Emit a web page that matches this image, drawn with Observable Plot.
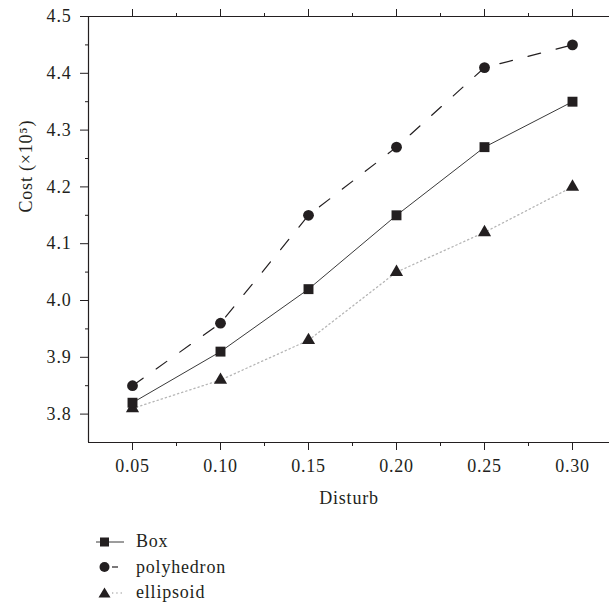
<!DOCTYPE html>
<html><head><meta charset="utf-8">
<script src="https://cdn.jsdelivr.net/npm/d3@7"></script>
<script src="https://cdn.jsdelivr.net/npm/@observablehq/plot@0.6"></script>
<style>
html,body{margin:0;padding:0;background:#fff;overflow:hidden;}
body{font-family:"Liberation Serif","DejaVu Serif",serif;color:#231f20;}
#legend{padding-top:14px;font-size:18px;letter-spacing:0.8px;}
.row{height:25.5px;display:flex;align-items:center;}
.row svg{margin-left:96px;margin-right:10px;}
</style></head><body>
<div id="chart"></div>
<div id="legend"></div>
<script>
const disturb = [0.05, 0.10, 0.15, 0.20, 0.25, 0.30];
const boxCost = [3.82, 3.91, 4.02, 4.15, 4.27, 4.35];
const polyhedronCost = [3.85, 3.96, 4.15, 4.27, 4.41, 4.45];
const ellipsoidCost = [3.81, 3.86, 3.93, 4.05, 4.12, 4.20];
const seriesNames = ["Box", "polyhedron", "ellipsoid"];
const xMajorTicks = [0.05, 0.10, 0.15, 0.20, 0.25, 0.30];
const xMinorTicks = [0.075, 0.125, 0.175, 0.225, 0.275];
const yMajorTicks = [3.8, 3.9, 4.0, 4.1, 4.2, 4.3, 4.4, 4.5];
const yMinorTicks = [3.85, 3.95, 4.05, 4.15, 4.25, 4.35, 4.45];
const xTitle = "Disturb";
const yTitle = "Cost (×10⁵)";

const ink = "#231f20";
const table = [];
disturb.forEach((d, i) => {
  table.push({x: d, y: boxCost[i], s: "Box"});
  table.push({x: d, y: polyhedronCost[i], s: "polyhedron"});
  table.push({x: d, y: ellipsoidCost[i], s: "ellipsoid"});
});
const of = (name) => table.filter(r => r.s === name);

const chart = Plot.plot({
  width: 609, height: 515,
  marginLeft: 88, marginRight: 0, marginTop: 16, marginBottom: 73,
  style: {fontFamily: '"Liberation Serif", serif', fontSize: "18px", color: ink, background: "#fff", overflow: "hidden", letterSpacing: "0.8px"},
  x: {domain: [0.025, 0.325], range: [88, 616]},
  y: {domain: [3.75, 4.5]},
  marks: [
    Plot.axisX(xMajorTicks, {anchor: "bottom", tickSize: 8, tickPadding: 9, tickFormat: d3.format(".2f"),
      label: xTitle, labelAnchor: "center", labelArrow: "none", labelOffset: 61}),
    Plot.axisX(xMinorTicks, {anchor: "bottom", tickSize: 4, tickFormat: () => "", label: null}),
    Plot.axisX(xMajorTicks, {anchor: "top", tickSize: 8, tickFormat: () => "", label: null}),
    Plot.axisX(xMinorTicks, {anchor: "top", tickSize: 4, tickFormat: () => "", label: null}),
    Plot.axisY(yMajorTicks, {anchor: "left", tickSize: 8, tickPadding: 9, tickFormat: d3.format(".1f"), label: null}),
    Plot.axisY(yMinorTicks, {anchor: "left", tickSize: 3, tickFormat: () => "", label: null}),
    Plot.text([yTitle], {frameAnchor: "left", rotate: -90, dx: -57, dy: -17, fill: ink, fontSize: 18, lineAnchor: "bottom"}),
    Plot.ruleY([3.75], {stroke: ink, strokeWidth: 1.2}),
    Plot.ruleY([4.5], {stroke: ink, strokeWidth: 1.2}),
    Plot.ruleX([0.025], {stroke: ink, strokeWidth: 1.2}),
    Plot.line(of("ellipsoid"), {x: "x", y: "y", stroke: "#b5b5b5", strokeWidth: 1.3, strokeDasharray: "1.3 3"}),
    Plot.line(of("polyhedron"), {x: "x", y: "y", stroke: ink, strokeWidth: 1.2, strokeDasharray: "13 16"}),
    Plot.line(of("Box"), {x: "x", y: "y", stroke: "#3a3a3a", strokeWidth: 1}),
    Plot.dot(of("ellipsoid"), {x: "x", y: "y", symbol: "triangle", r: 4.9, fill: ink}),
    Plot.dot(of("polyhedron"), {x: "x", y: "y", symbol: "circle", r: 5.4, fill: ink}),
    Plot.dot(of("Box"), {x: "x", y: "y", symbol: "square", r: 5.6, fill: ink})
  ]
});
document.getElementById("chart").appendChild(chart);

const icons = {
  Box: '<line x1="0" y1="8" x2="28" y2="8" stroke="#3a3a3a" stroke-width="1"/><rect x="4" y="3.5" width="9" height="9" fill="' + ink + '"/>',
  polyhedron: '<line x1="16" y1="8" x2="22" y2="8" stroke="' + ink + '" stroke-width="1.2"/><circle cx="8.5" cy="8" r="5" fill="' + ink + '"/>',
  ellipsoid: '<line x1="16" y1="8" x2="28" y2="8" stroke="#b5b5b5" stroke-width="1.3" stroke-dasharray="1.3 3"/><path d="M8.5,2.5 L14.5,12.5 L2.5,12.5 Z" fill="' + ink + '"/>'
};
const legend = document.getElementById("legend");
seriesNames.forEach(n => {
  const row = document.createElement("div");
  row.className = "row";
  row.innerHTML = '<svg width="30" height="16">' + icons[n] + '</svg><span>' + n + '</span>';
  legend.appendChild(row);
});
</script>
</body></html>
